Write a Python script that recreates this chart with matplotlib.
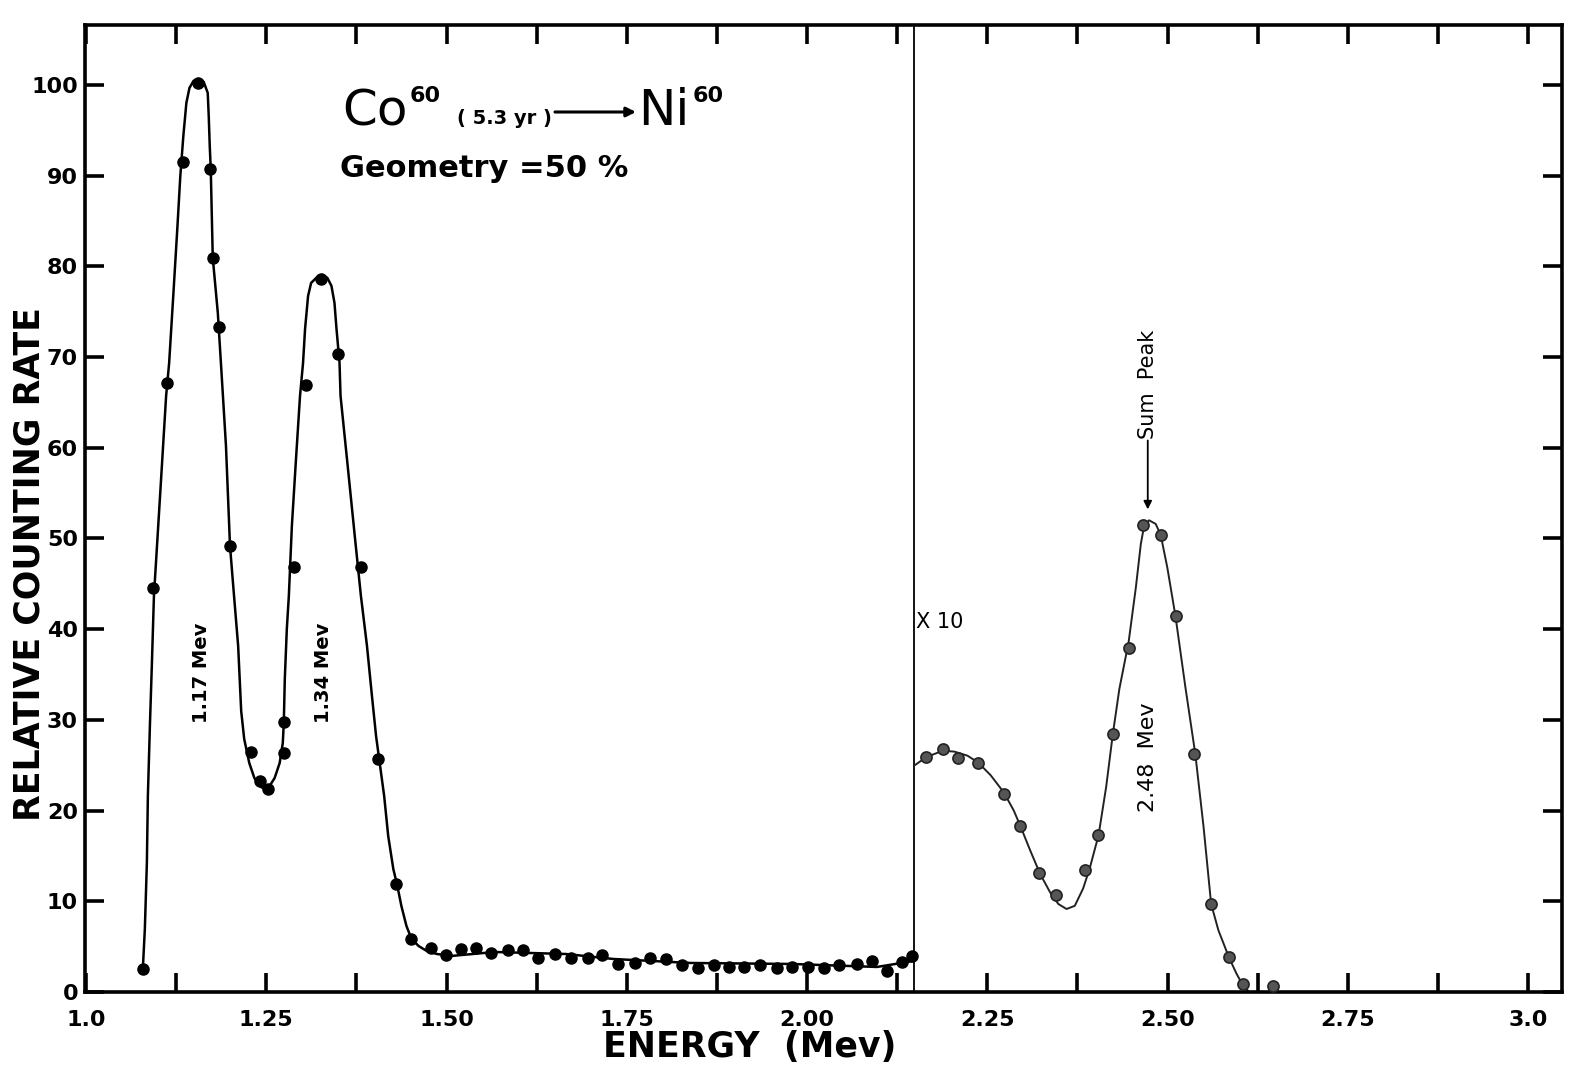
import matplotlib
matplotlib.use("Agg")
import matplotlib.pyplot as plt
import numpy as np

# measured points, x1 part (below the divider)
low_energy = [1.079, 1.093, 1.113, 1.134, 1.155, 1.172, 1.176, 1.184, 1.200, 1.229,
	1.241, 1.253, 1.274, 1.274, 1.288, 1.305, 1.326, 1.350, 1.381, 1.405,
	1.430, 1.451, 1.478, 1.499, 1.520, 1.541, 1.562, 1.585, 1.606, 1.627,
	1.651, 1.672, 1.696, 1.716, 1.738, 1.761, 1.782, 1.804, 1.827, 1.849,
	1.871, 1.892, 1.913, 1.935, 1.958, 1.979, 2.001, 2.023, 2.044, 2.069,
	2.090, 2.111, 2.132, 2.146]
low_rate = [2.5, 44.5, 67.1, 91.5, 100.2, 90.7, 80.9, 73.3, 49.2, 26.5,
	23.3, 22.4, 26.4, 29.8, 46.9, 66.9, 78.6, 70.3, 46.9, 25.7,
	11.9, 5.8, 4.85, 4.1, 4.74, 4.85, 4.3, 4.63, 4.63, 3.75,
	4.19, 3.75, 3.75, 4.08, 3.09, 3.2, 3.75, 3.64, 2.98, 2.65,
	2.98, 2.76, 2.76, 2.98, 2.65, 2.76, 2.76, 2.65, 2.98, 3.09,
	3.42, 2.32, 3.31, 3.97]

# hand drawn curve through the x1 points
low_curve_e = [1.0788, 1.0816, 1.0844, 1.0858, 1.0886, 1.0914, 1.0942, 1.1027, 1.1111, 1.1153,
	1.1210, 1.1266, 1.1308, 1.1350, 1.1392, 1.1435, 1.1491, 1.1561, 1.1632, 1.1688,
	1.1702, 1.1716, 1.1730, 1.1758, 1.1828, 1.1871, 1.1899, 1.1941, 1.1997, 1.2053,
	1.2110, 1.2152, 1.2194, 1.2264, 1.2335, 1.2405, 1.2475, 1.2546, 1.2616, 1.2686,
	1.2729, 1.2743, 1.2757, 1.2785, 1.2813, 1.2855, 1.2911, 1.2968, 1.3010, 1.3038,
	1.3080, 1.3122, 1.3207, 1.3277, 1.3347, 1.3404, 1.3446, 1.3474, 1.3516, 1.3530,
	1.3629, 1.3727, 1.3812, 1.3896, 1.3966, 1.4023, 1.4079, 1.4135, 1.4191, 1.4262,
	1.4318, 1.4374, 1.4444, 1.4515, 1.4613, 1.4726, 1.4866, 1.5063, 1.5668, 1.6653,
	1.7314, 1.8383, 1.9789, 2.0970, 2.1477]
low_curve_r = [2.54, 6.95, 14.22, 21.61, 29.33, 36.27, 43.66, 54.69, 65.71, 69.35,
	76.74, 84.12, 89.97, 94.38, 98.02, 99.67, 100.44, 100.66, 100.33, 99.12,
	96.58, 93.27, 90.74, 80.93, 74.86, 69.35, 65.71, 60.20, 49.17, 43.66,
	38.15, 30.98, 27.89, 25.25, 23.59, 22.71, 22.38, 22.71, 23.59, 25.25,
	27.45, 29.66, 34.51, 40.02, 43.66, 51.38, 58.6, 65.71, 69.35, 73.10,
	76.74, 78.17, 78.83, 79.05, 78.72, 77.84, 75.96, 73.10, 69.35, 65.71,
	58.0, 50.3, 43.7, 38.2, 32.6, 28.2, 24.9, 21.61, 17.20, 13.56,
	11.69, 9.48, 7.28, 5.84, 5.07, 4.52, 4.19, 3.97, 4.41, 4.19,
	3.64, 3.20, 3.09, 2.76, 3.42]

# measured points, x10 part (right of the divider)
high_energy = [2.165, 2.188, 2.209, 2.237, 2.273, 2.296, 2.322, 2.345, 2.386, 2.404,
	2.424, 2.446, 2.466, 2.491, 2.511, 2.537, 2.560, 2.585, 2.605, 2.646]
high_rate = [25.9, 26.8, 25.8, 25.2, 21.8, 18.3, 13.1, 10.7, 13.4, 17.3,
	28.4, 37.9, 51.5, 50.4, 41.4, 26.2, 9.7, 3.9, 0.9, 0.7]

high_curve_e = [2.1484, 2.1584, 2.1721, 2.1882, 2.2043, 2.2225, 2.2372, 2.2546, 2.2729, 2.2867,
	2.2958, 2.3095, 2.3233, 2.3370, 2.3485, 2.3599, 2.3713, 2.3828, 2.3919, 2.4043,
	2.4148, 2.4240, 2.4331, 2.4460, 2.4560, 2.4629, 2.4675, 2.4743, 2.4835, 2.4904,
	2.4996, 2.5110, 2.5247, 2.5385, 2.5499, 2.5604, 2.5705, 2.5852, 2.5957, 2.6048,
	2.6117]
high_curve_r = [24.95, 25.5, 26.1, 26.6, 26.5, 26.05, 25.3, 23.9, 22.0, 20.0,
	18.3, 15.6, 13.0, 11.0, 9.7, 9.15, 9.5, 11.4, 13.6, 17.3,
	22.6, 28.4, 33.4, 38.6, 44.6, 49.4, 51.4, 52.0, 51.6, 50.4,
	46.8, 41.4, 33.6, 26.2, 18.2, 9.7, 6.8, 3.8, 2.0, 0.7,
	0.1]

x_major = [1.0, 1.25, 1.5, 1.75, 2.0, 2.25, 2.5, 2.75, 3.0]
x_labels = ["1.0", "1.25", "1.50", "1.75", "2.00", "2.25", "2.50", "2.75", "3.0"]
y_major = [0, 10, 20, 30, 40, 50, 60, 70, 80, 90, 100]

divider = 2.148

W, H = 1569, 1066

def fx(px):
	return px / W

def fy(py):
	return 1 - py / H

def main():
	fig = plt.figure(figsize=(W / 100, H / 100), dpi=100)
	ax = fig.add_axes([fx(85), fy(992), 1477 / W, 967 / H])
	ax.set_xlim(0.9986, 3.047)
	ax.set_ylim(0, 106.6)

	ax.plot(low_curve_e, low_curve_r, color="black", lw=1.8, zorder=2,
		solid_joinstyle="round")
	ax.plot(low_energy, low_rate, "o", color="black", ms=8, zorder=3)
	ax.plot(high_curve_e, high_curve_r, color="#222222", lw=1.4, zorder=2,
		solid_joinstyle="round")
	ax.plot(high_energy, high_rate, "o", mfc="#555555", mec="#222222", mew=1.2, ms=8, zorder=3)
	ax.axvline(divider, color="black", lw=1.3, zorder=1)

	for s in ax.spines.values():
		s.set_linewidth(2.6)

	ax.set_xticks(x_major)
	ax.set_xticklabels(x_labels, fontsize=16, fontweight="bold")
	ax.set_xticks(np.arange(1.125, 3.01, 0.25), minor=True)
	ax.set_yticks(y_major)
	ax.set_yticklabels([str(v) for v in y_major], fontsize=16, fontweight="bold")
	ax.tick_params(which="both", direction="in", length=14, width=2.6,
		top=True, right=True)
	ax.tick_params(axis="x", pad=13)
	ax.tick_params(axis="y", pad=5)

	# annotations
	ax.text(1.160, 29.6, "1.17 Mev", rotation=90, fontsize=14, fontweight="bold",
		ha="center", va="bottom")
	ax.text(1.329, 29.6, "1.34 Mev", rotation=90, fontsize=14, fontweight="bold",
		ha="center", va="bottom")
	ax.text(2.4725, 19.8, "2.48  Mev", rotation=90, fontsize=16,
		ha="center", va="bottom")
	ax.text(2.4725, 61.0, "Sum  Peak", rotation=90, fontsize=15,
		ha="center", va="bottom")
	ax.annotate("", xy=(2.4725, 53.2), xytext=(2.4725, 60.8),
		arrowprops=dict(arrowstyle="-|>", color="black", lw=1.3,
			mutation_scale=12, shrinkA=0, shrinkB=0))
	ax.text(2.151, 40.8, "X 10", fontsize=15, ha="left", va="center")

	fig.text(fx(342), fy(125), "Co", fontsize=36, ha="left", va="baseline")
	fig.text(fx(410), fy(102), "60", fontsize=16, fontweight="bold", ha="left", va="baseline")
	fig.text(fx(457), fy(124), "( 5.3 yr )", fontsize=14, fontweight="bold", ha="left", va="baseline")
	fig.text(fx(638), fy(125), "Ni", fontsize=36, ha="left", va="baseline")
	fig.text(fx(693), fy(102), "60", fontsize=16, fontweight="bold", ha="left", va="baseline")
	fig.add_artist(matplotlib.patches.FancyArrowPatch((fx(555), fy(112)), (fx(636), fy(112)),
		transform=fig.transFigure, arrowstyle="-|>", mutation_scale=14,
		color="black", lw=2.2, shrinkA=0, shrinkB=0))
	fig.text(fx(340), fy(177), "Geometry =50 %", fontsize=22, fontweight="bold",
		ha="left", va="baseline")

	fig.text(fx(750), fy(1047), "ENERGY  (Mev)", fontsize=25, fontweight="bold",
		ha="center", va="center")
	fig.text(fx(30), fy(564), "RELATIVE COUNTING RATE", fontsize=25, fontweight="bold",
		rotation=90, ha="center", va="center")

	fig.savefig("out.png", dpi=100)

if __name__ == "__main__":
	main()
